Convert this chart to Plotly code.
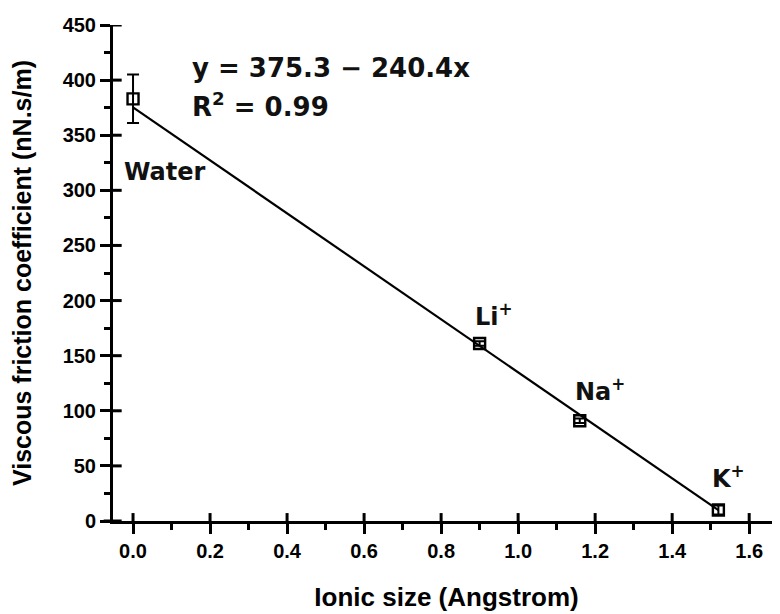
import plotly.graph_objects as go

# Data
labels = ["Water", "Li<sup>+</sup>", "Na<sup>+</sup>", "K<sup>+</sup>"]
ionic_size = [0.0, 0.90, 1.16, 1.52]
friction = [383, 161, 91, 10]
friction_err = [22, 2, 2, 4]
fit_intercept = 375.3
fit_slope = -240.4
fit_x = [0.0, 1.52]
fit_y = [fit_intercept + fit_slope * x for x in fit_x]

# label anchor positions (data units)
label_x = [-0.029, 0.883, 1.143, 1.499]
label_y = [317, 187, 119, 40]

x_ticks = [0.0, 0.2, 0.4, 0.6, 0.8, 1.0, 1.2, 1.4, 1.6]
y_ticks = [0, 50, 100, 150, 200, 250, 300, 350, 400, 450]

XR = [-0.052, 1.68]
YR = [0, 450]

AX_FONT = "Liberation Sans, Arial, sans-serif"
ANN_FONT = "DejaVu Sans, sans-serif"

fig = go.Figure()

fig.add_trace(go.Scatter(
    x=fit_x, y=fit_y, mode="lines",
    line=dict(color="black", width=2.2), showlegend=False, hoverinfo="skip"))

fig.add_trace(go.Scatter(
    x=ionic_size, y=friction, mode="markers",
    marker=dict(symbol="square-open", size=11, color="black",
                line=dict(color="black", width=2.4)),
    error_y=dict(type="data", array=friction_err, visible=True,
                 color="black", thickness=2, width=6),
    showlegend=False))

for lx, ly, t in zip(label_x, label_y, labels):
    fig.add_annotation(x=lx, y=ly, text="<b>%s</b>" % t, showarrow=False,
                       xanchor="left", yanchor="middle",
                       font=dict(family=ANN_FONT, size=24, color="#111111"))

fig.add_annotation(x=0.148, y=411, text="<b>y = 375.3 \u2212 240.4x</b>",
                   showarrow=False, xanchor="left", yanchor="middle",
                   font=dict(family=ANN_FONT, size=26, color="#111111"))
fig.add_annotation(x=0.148, y=377, text="<b>R<sup>2</sup> = 0.99</b>",
                   showarrow=False, xanchor="left", yanchor="middle",
                   font=dict(family=ANN_FONT, size=26, color="#111111"))

# inner halves of the crossing major ticks
for xv in x_ticks:
    fig.add_shape(type="line", xref="x", yref="paper", x0=xv, x1=xv,
                  y0=0, y1=0.016, line=dict(color="black", width=3),
                  layer="above")
for yv in y_ticks:
    fig.add_shape(type="line", xref="paper", yref="y", x0=0, x1=0.013,
                  y0=yv, y1=yv, line=dict(color="black", width=3),
                  layer="above")
# x-axis line running a little past the y-axis
fig.add_shape(type="line", xref="paper", yref="paper", x0=-0.014, x1=0,
              y0=0, y1=0, line=dict(color="black", width=3), layer="above")

fig.update_layout(
    width=772, height=606,
    margin=dict(l=105, r=0, t=17, b=93),
    plot_bgcolor="white", paper_bgcolor="white",
    xaxis=dict(
        range=XR, tickvals=x_ticks,
        ticktext=["<b>%.1f</b>" % v for v in x_ticks],
        showgrid=False, zeroline=False, showline=True, linecolor="black",
        linewidth=3, ticks="outside", ticklen=10, tickwidth=3,
        tickcolor="black", automargin=False,
        minor=dict(ticks="outside", ticklen=6, tickwidth=2.5, dtick=0.1,
                   tick0=0, tickcolor="black", showgrid=False),
        tickfont=dict(family="Liberation Sans", size=20, color="black"),
        title=dict(text="<b>Ionic size (Angstrom)</b>", standoff=27,
                   font=dict(family=AX_FONT, size=26, color="black")),
    ),
    yaxis=dict(
        range=YR, tickvals=y_ticks,
        ticktext=["<b>%d</b>" % v for v in y_ticks],
        showgrid=False, zeroline=False, showline=True, linecolor="black",
        linewidth=3, ticks="outside", ticklen=10, tickwidth=3,
        tickcolor="black", automargin=False,
        minor=dict(ticks="outside", ticklen=6, tickwidth=2.5, dtick=25,
                   tick0=0, tickcolor="black", showgrid=False),
        tickfont=dict(family="Liberation Sans", size=20, color="black"),
        title=dict(text="<b>Viscous friction coefficient (nN.s/m)</b>",
                   standoff=28,
                   font=dict(family=AX_FONT, size=25, color="black")),
    ),
)

fig.write_html("out.html")
